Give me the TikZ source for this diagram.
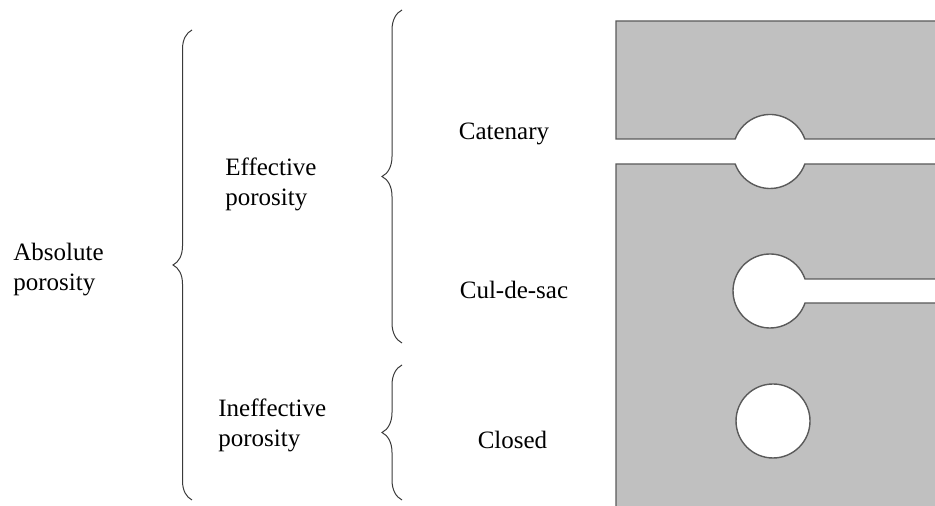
\documentclass[tikz,border=0pt]{standalone}
\usepackage{fontspec}
\setmainfont{Liberation Serif}
\usetikzlibrary{decorations.pathreplacing}
\definecolor{rockgray}{HTML}{C0C0C0}
\definecolor{rockline}{HTML}{5A5A5A}
\definecolor{bracegray}{HTML}{3A3A3A}
\begin{document}
\begin{tikzpicture}[
        x=0.5pt, y=0.5pt,
        label/.style={align=left, inner sep=0pt, font=\fontsize{12.5}{15}\selectfont},
        poretype/.style={inner sep=0pt, font=\fontsize{12.5}{15}\selectfont},
        bigbrace/.style={decorate, decoration={brace, amplitude=9.5pt}, bracegray, line width=0.5pt},
        smallbrace/.style={decorate, decoration={brace, amplitude=10pt}, bracegray, line width=0.5pt},
        rock/.style={fill=rockgray, draw=rockline, line width=0.7pt, even odd rule}
    ]
        \useasboundingbox (0,0) rectangle (935,506);

        % Porosity classes
        \node[label, anchor=west] (abs) at (13,236) {Absolute\\porosity};
        \node[label, anchor=west] (eff) at (225,322) {Effective\\porosity};
        \node[label, anchor=west] (ineff) at (218,81) {Ineffective\\porosity};

        % Pore types
        \node[poretype] (cat) at (504,372.5) {Catenary};
        \node[poretype] (cul) at (514,216.5) {Cul-de-sac};
        \node[poretype] (clo) at (512.5,66.5) {Closed};

        % Braces
        \coordinate (absbot) at (192,6);
        \coordinate (abstop) at (192,476);
        \coordinate (effbot) at (402,163);
        \coordinate (efftop) at (402,496);
        \coordinate (inbot) at (402,6);
        \coordinate (intop) at (402,141);
        \draw[bigbrace] (absbot) -- (abstop);
        \draw[smallbrace] (effbot) -- (efftop);
        \draw[smallbrace] (inbot) -- (intop);

        % Rock with pores
        \begin{scope}
            \clip (0,0) rectangle (935,506);
            \draw[rock] (945,367) -- (804.82,367)
                arc[start angle=19.74, end angle=160.26, radius=37]
                -- (616,367) -- (616,485) -- (945,485) -- cycle;
            \draw[rock] (945,342) -- (804.82,342)
                arc[start angle=-19.74, end angle=-160.26, radius=37]
                -- (616,342) -- (616,-10) -- (945,-10) -- (945,203)
                -- (805,203)
                arc[start angle=-18.92, end angle=-341.08, radius=37]
                -- (945,227) -- cycle
                (773,85) circle[radius=37];
        \end{scope}
    \end{tikzpicture}
\end{document}
